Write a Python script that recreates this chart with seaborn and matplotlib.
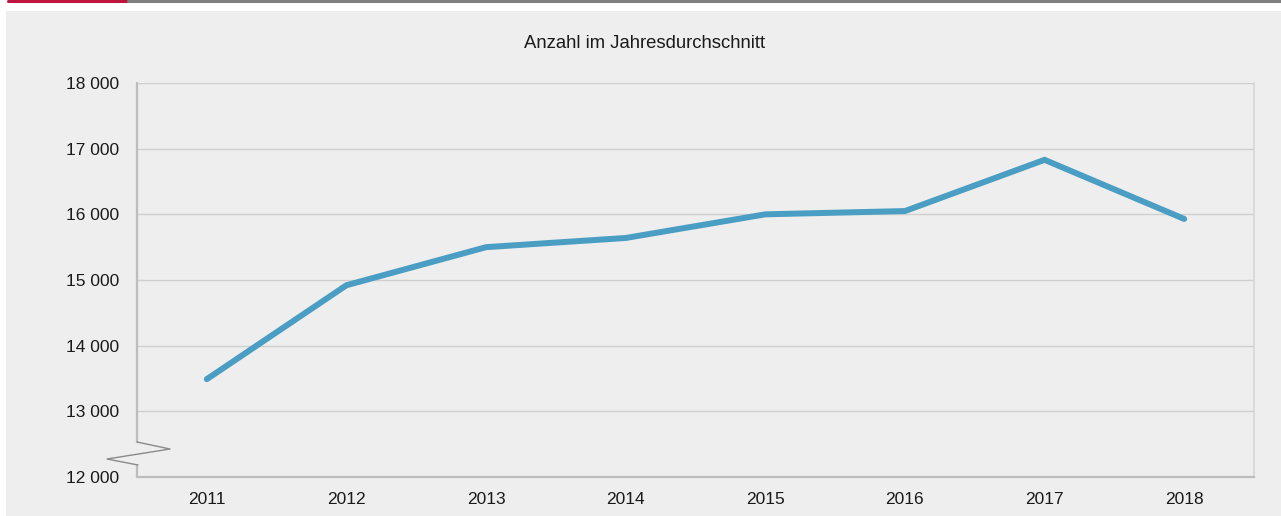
import matplotlib
matplotlib.use("Agg")
import matplotlib.pyplot as plt
import seaborn as sns
import pandas as pd
from matplotlib.lines import Line2D

# Anzahl im Jahresdurchschnitt
years = ["2011", "2012", "2013", "2014", "2015", "2016", "2017", "2018"]
values = [13490, 14920, 15500, 15640, 16000, 16050, 16830, 15930]
yticks = [12000, 13000, 14000, 15000, 16000, 17000, 18000]
ytick_labels = ["12 000", "13 000", "14 000", "15 000", "16 000", "17 000", "18 000"]

df = pd.DataFrame({"Jahr": years, "Anzahl": values})

sns.set_theme(style="white")
plt.rcParams["font.family"] = ["Liberation Sans", "DejaVu Sans"]

bg = "#edeeed"
grid = "#cfcfcf"
fig = plt.figure(figsize=(12.81, 5.16), dpi=100)
fig.patch.set_facecolor("white")

# grey panel and top rule
fig.patches.append(plt.Rectangle((6 / 1281, 0), 1 - 6 / 1281, 1 - 11 / 516,
                                 transform=fig.transFigure, facecolor=bg,
                                 edgecolor="none", zorder=-10))
fig.add_artist(Line2D([8 / 1281, 128 / 1281], [1 - 1 / 516, 1 - 1 / 516],
                      transform=fig.transFigure, color="#c0143c", lw=2.2))
fig.add_artist(Line2D([128 / 1281, 1], [1 - 1 / 516, 1 - 1 / 516],
                      transform=fig.transFigure, color="#808080", lw=2.2))

ax = fig.add_axes([137 / 1281, 1 - 477 / 516, (1254 - 137) / 1281, (477 - 83) / 516])
ax.set_facecolor(bg)

sns.lineplot(data=df, x="Jahr", y="Anzahl", ax=ax, color="#4a9dc3",
             linewidth=4.3, solid_capstyle="round", solid_joinstyle="miter",
             sort=False, zorder=5)

ax.set_xlim(-0.5, len(years) - 0.5)
ax.set_ylim(12000, 18000)
ax.set_yticks(yticks)
ax.set_yticklabels(ytick_labels, fontsize=12.5, color="#1a1a1a")
ax.set_xticks(range(len(years)))
ax.set_xticklabels(years, fontsize=12.5, color="#1a1a1a")
ax.set_xticks([i - 0.5 for i in range(len(years) + 1)], minor=True)
ax.tick_params(axis="x", which="major", length=0, pad=11)
ax.tick_params(axis="x", which="minor", length=5, color="#bdbdbd", width=1.2)
ax.tick_params(axis="y", length=5, color="#bdbdbd", width=1.2, pad=8)
ax.set_xlabel("")
ax.set_ylabel("")

ax.grid(axis="y", color=grid, lw=1)
ax.set_axisbelow(True)
ax.spines["top"].set_visible(False)
ax.spines["right"].set_color("#d6d6d6")
ax.spines["right"].set_linewidth(1.2)
ax.spines["bottom"].set_color("#bdbdbd")
ax.spines["bottom"].set_linewidth(1.6)
ax.spines["left"].set_visible(False)

# left axis with break symbol
tr = ax.transAxes
def fy(py):
    return (477 - py) / (477 - 83)
def fx(px):
    return (px - 137) / (1254 - 137)
ax.add_line(Line2D([0, 0], [fy(442), 1], transform=tr, color="#bdbdbd",
                   lw=1.6, clip_on=False))
ax.add_line(Line2D([0, 0], [0, fy(465)], transform=tr, color="#bdbdbd",
                   lw=1.6, clip_on=False))
ax.add_line(Line2D([fx(137), fx(170), fx(107), fx(138)],
                   [fy(442), fy(449), fy(459), fy(465)], transform=tr,
                   color="#8a8a8a", lw=1.0, clip_on=False))

fig.text(645 / 1281, 1 - 44 / 516, "Anzahl im Jahresdurchschnitt",
         ha="center", va="center", fontsize=13.3, color="#1a1a1a")

fig.savefig("out.png", dpi=100, facecolor=fig.get_facecolor())
